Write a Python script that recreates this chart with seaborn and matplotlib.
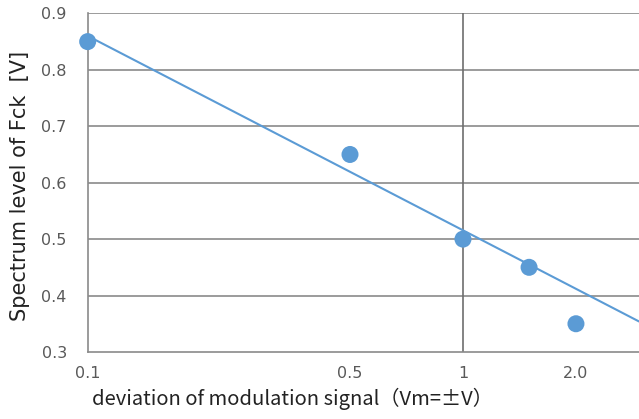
import numpy as np
import pandas as pd
import matplotlib
matplotlib.use("Agg")
import matplotlib.pyplot as plt
import seaborn as sns

# Data
deviation = [0.1, 0.5, 1.0, 1.5, 2.0]
spectrum = [0.85, 0.65, 0.50, 0.45, 0.35]
x_ticks = [0.1, 0.5, 1.0, 2.0]
x_tick_labels = ["0.1", "0.5", "1", "2.0"]
y_ticks = [0.3, 0.4, 0.5, 0.6, 0.7, 0.8, 0.9]
# trend line: logarithmic fit on the first four points (as in the reference)
n_fit = 4

sns.set_theme(style="white")
plt.rcParams['font.family'] = ['DejaVu Sans', 'Noto Sans CJK JP']

fig = plt.figure(figsize=(6.39, 4.19), dpi=100)
ax = fig.add_axes([0.1372, 0.16, 0.8628, 0.808])

df = pd.DataFrame({"deviation": deviation, "spectrum": spectrum})
blue = "#5B9BD5"

ax.set_xscale("log")
xmax = 10 ** 0.469
ax.set_xlim(0.1, xmax)
ax.set_ylim(0.3, 0.9)

# trend line
lx = np.log10(np.array(deviation[:n_fit]))
b, a = np.polyfit(lx, np.array(spectrum[:n_fit]), 1)
xs = np.logspace(-1, np.log10(xmax), 50)
trend = pd.DataFrame({"x": xs, "y": a + b * np.log10(xs)})
sns.lineplot(data=trend, x="x", y="y", ax=ax, color=blue, linewidth=1.5, zorder=3)

sns.scatterplot(data=df, x="deviation", y="spectrum", ax=ax, color=blue,
                s=150, edgecolor="none", zorder=4, clip_on=False)

# grid
for yv in y_ticks[1:]:
    ax.axhline(yv, color="#8a8a8a", linewidth=1.2, zorder=1)
ax.axvline(1.0, color="#6e6e6e", linewidth=1.2, zorder=1)

for side in ["top", "right"]:
    ax.spines[side].set_visible(False)
for side in ["left", "bottom"]:
    ax.spines[side].set_color("#8a8a8a")
    ax.spines[side].set_linewidth(1.2)

ax.set_xticks(x_ticks)
ax.set_xticklabels(x_tick_labels)
ax.xaxis.set_minor_locator(matplotlib.ticker.NullLocator())
ax.set_yticks(y_ticks)
ax.set_yticklabels([f"{v:.1f}" for v in y_ticks])
ax.tick_params(axis="both", length=0, labelsize=11.5, labelcolor="#595959")
ax.tick_params(axis="y", pad=15)
ax.tick_params(axis="x", pad=10)

ax.set_xlabel("deviation of modulation signal（Vm=±V）", fontsize=14.5, color="#222222",
              family=['Noto Sans CJK JP', 'DejaVu Sans'])
ax.set_ylabel("Spectrum level of Fck  [V]", fontsize=15, color="#222222",
              family=['DejaVu Sans'])
ax.xaxis.set_label_coords(0.372, -0.105)
ax.yaxis.set_label_coords(-0.104, 0.49)

fig.savefig("out.png", dpi=100)
